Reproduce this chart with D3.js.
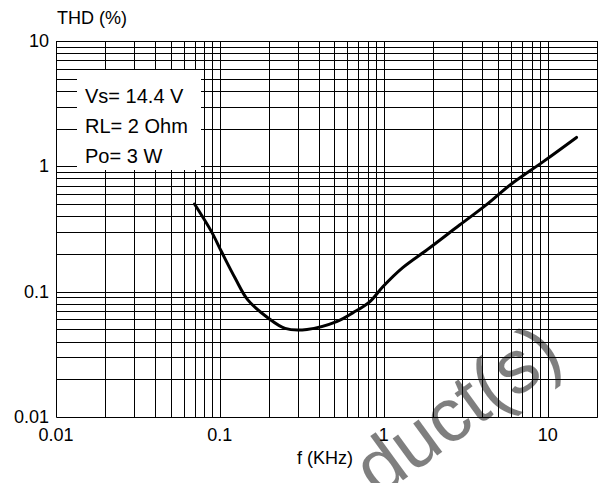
<!DOCTYPE html>
<html>
<head>
<meta charset="utf-8">
<script src="https://cdn.jsdelivr.net/npm/d3@7"></script>
<style>
  body { margin: 0; background: #fff; }
  svg { display: block; }
  text { font-family: "Liberation Sans", Arial, sans-serif; fill: #000; }
</style>
</head>
<body>
<svg id="chart" width="603" height="483"></svg>
<script>
// THD vs frequency
const freq = [0.07, 0.089, 0.102, 0.124, 0.148, 0.196, 0.25, 0.34, 0.52, 0.65, 0.82, 0.99, 1.3, 1.9, 2.9, 4.2, 5.9, 9.4, 15];
const thd  = [0.5, 0.30, 0.21, 0.128, 0.086, 0.062, 0.051, 0.050, 0.058, 0.068, 0.083, 0.11, 0.155, 0.223, 0.34, 0.49, 0.71, 1.09, 1.7];

const xTicks = [0.01, 0.1, 1, 10];
const yTicks = [0.01, 0.1, 1, 10];
const legendLines = ['Vs= 14.4 V', 'RL= 2 Ohm', 'Po= 3 W'];

const svg = d3.select('#chart');
const margin = {left: 56, top: 41, right: 6, bottom: 66};
const W = +svg.attr('width'), H = +svg.attr('height');

const x = d3.scaleLog().domain([0.01, 20]).range([margin.left, W - margin.right]);
const y = d3.scaleLog().domain([0.01, 10]).range([H - margin.bottom, margin.top]);

const px = v => Math.round(v) + 0.5;

// minor + major grid values
const gridX = [];
[0.01, 0.1, 1, 10].forEach(d => { for (let k = 1; k <= 9; k++) { const v = d * k; if (v <= 20) gridX.push(v); } });
gridX.push(20);
const gridY = [];
[0.01, 0.1, 1].forEach(d => { for (let k = 1; k <= 9; k++) gridY.push(d * k); });
gridY.push(10);

const grid = svg.append('g').attr('stroke', '#000').attr('stroke-width', 1);
grid.selectAll('line.gx').data(gridX).enter().append('line')
  .attr('class', 'gx')
  .attr('x1', d => px(x(d))).attr('x2', d => px(x(d)))
  .attr('y1', y(10)).attr('y2', px(y(0.01)));
grid.selectAll('line.gy').data(gridY).enter().append('line')
  .attr('class', 'gy')
  .attr('x1', px(x(0.01))).attr('x2', px(x(20)))
  .attr('y1', d => px(y(d))).attr('y2', d => px(y(d)));

// legend box hides the grid behind it
svg.append('rect')
  .attr('x', 77).attr('y', 70)
  .attr('width', 124).attr('height', 100)
  .attr('fill', '#fff');

svg.append('g').selectAll('text').data(legendLines).enter().append('text')
  .attr('x', 85)
  .attr('y', (d, i) => 103 + i * 30)
  .attr('font-size', 20)
  .text(d => d);

// curve
const line = d3.line()
  .x(d => x(d[0]))
  .y(d => y(d[1]))
  .curve(d3.curveCatmullRom.alpha(0.5));

svg.append('path')
  .datum(freq.map((f, i) => [f, thd[i]]))
  .attr('d', line)
  .attr('fill', 'none')
  .attr('stroke', '#000')
  .attr('stroke-width', 3)
  .attr('stroke-linecap', 'round');

// tick labels
svg.append('g').selectAll('text').data(yTicks).enter().append('text')
  .attr('x', 49)
  .attr('y', d => y(d) + 6)
  .attr('text-anchor', 'end')
  .attr('font-size', 18)
  .text(d => d3.format('~g')(d));

svg.append('g').selectAll('text').data(xTicks).enter().append('text')
  .attr('x', d => x(d))
  .attr('y', 441)
  .attr('text-anchor', 'middle')
  .attr('font-size', 18)
  .text(d => d3.format('~g')(d));

// axis titles
svg.append('text').attr('x', 57).attr('y', 24).attr('font-size', 18).text('THD (%)');
svg.append('text').attr('x', 297).attr('y', 464).attr('font-size', 18).text('f (KHz)');

// faint watermark
svg.append('text')
  .attr('transform', 'translate(566,362) rotate(-36)')
  .attr('text-anchor', 'end')
  .attr('font-size', 76)
  .attr('fill', '#bdbdbd')
  .attr('fill-opacity', 0.5)
  .text('duct(s)');
</script>
</body>
</html>
